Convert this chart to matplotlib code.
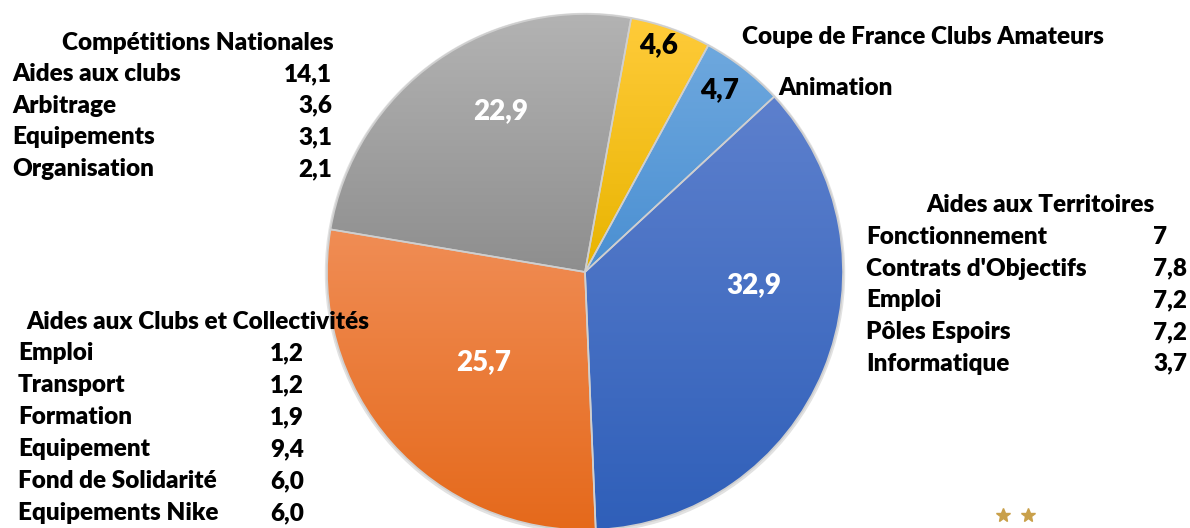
import numpy as np
import matplotlib
matplotlib.use("Agg")
import matplotlib.pyplot as plt
from matplotlib.colors import LinearSegmentedColormap

# Budget split (millions), clockwise from the top
slices = ["Coupe de France Clubs Amateurs", "Animation", "Aides aux Territoires",
          "Aides aux Clubs et Collectivités", "Compétitions Nationales"]
values = [4.6, 4.7, 32.9, 25.7, 22.9]

# details of the three big slices
comp_items = ["Aides aux clubs", "Arbitrage", "Equipements", "Organisation"]
comp_values = [14.1, 3.6, 3.1, 2.1]
terr_items = ["Fonctionnement", "Contrats d'Objectifs", "Emploi", "Pôles Espoirs", "Informatique"]
terr_values = [7, 7.8, 7.2, 7.2, 3.7]
club_items = ["Emploi", "Transport", "Formation", "Equipement", "Fond de Solidarité", "Equipements Nike"]
club_values = [1.2, 1.2, 1.9, 9.4, 6.0, 6.0]

# gradient (top, bottom) for each slice
grads = [("#ffcb3a", "#e8b400"), ("#6ea8de", "#4a8fd2"), ("#5d80cd", "#2f5fb9"),
         ("#f08d55", "#e5691b"), ("#b3b3b3", "#8e8e8e")]

W, H = 1190, 528
plt.rcParams["font.family"] = ["Lato", "DejaVu Sans"]
plt.rcParams["font.weight"] = "heavy"

fig = plt.figure(figsize=(W / 100, H / 100), dpi=100)
ax = fig.add_axes([0, 0, 1, 1])

def Y(py):
    return H - py

cx, cy, R = 585, Y(272), 258

# faint shadow
ax.add_patch(plt.Circle((cx, cy - 1), R + 1.5, color="#e2e2e2", zorder=0))

wedges, _ = ax.pie(values, startangle=79.7, counterclock=False, center=(cx, cy),
                   radius=R, colors=[g[1] for g in grads],
                   wedgeprops=dict(edgecolor="#cfcfcf", linewidth=1.2))

for w, (top, bot) in zip(wedges, grads):
    bb = w.get_path().get_extents(w.get_patch_transform())
    cmap = LinearSegmentedColormap.from_list("g", [bot, top])
    grad = np.linspace(0, 1, 256).reshape(-1, 1)
    im = ax.imshow(grad, cmap=cmap, origin="lower", aspect="auto",
                   extent=[bb.x0, bb.x1, bb.y0, bb.y1], zorder=1.5)
    im.set_clip_path(w)
    w.set_facecolor("none")
    w.set_zorder(2)

ax.set_xlim(0, W)
ax.set_ylim(0, H)
ax.set_axis_off()

# slice value labels
lab_pos = [(659, 45), (720, 90), (754, 285), (484, 362), (501, 111)]
lab_col = ["black", "black", "white", "white", "white"]
for v, (px, py), c in zip(values, lab_pos, lab_col):
    ax.text(px, Y(py), f"{v:.1f}".replace(".", ","), color=c, fontsize=20,
            ha="center", va="center", zorder=3)

fs = 17.5
ax.text(742, Y(37), slices[0], fontsize=fs, ha="left", va="center")
ax.text(778, Y(88), slices[1], fontsize=fs, ha="left", va="center")

def block(title, tx, ty, items, vals, fmt, lx, vx, vha, y0, dy):
    ax.text(tx, Y(ty), title, fontsize=fs, ha="center", va="center", zorder=3)
    for i, (it, v) in enumerate(zip(items, vals)):
        y = Y(y0 + i * dy)
        ax.text(lx, y, it, fontsize=fs, ha="left", va="center", zorder=3)
        ax.text(vx, y, fmt.format(v).replace(".", ","), fontsize=fs,
                ha=vha, va="center", zorder=3)

block(slices[4], 198, 43, comp_items, comp_values, "{:.1f}", 12, 332, "right", 74, 31.7)
block(slices[2], 1040, 205, terr_items, terr_values, "{:g}", 866, 1153, "left", 237, 31.7)
block(slices[3], 198, 322, club_items, club_values, "{:.1f}", 18, 270, "left", 353, 32)

# little logo stars
ax.plot([1003, 1028], [Y(515), Y(515)], ls="none", marker="*", ms=10, color="#c9a04a")

fig.savefig("out.png", dpi=100)
